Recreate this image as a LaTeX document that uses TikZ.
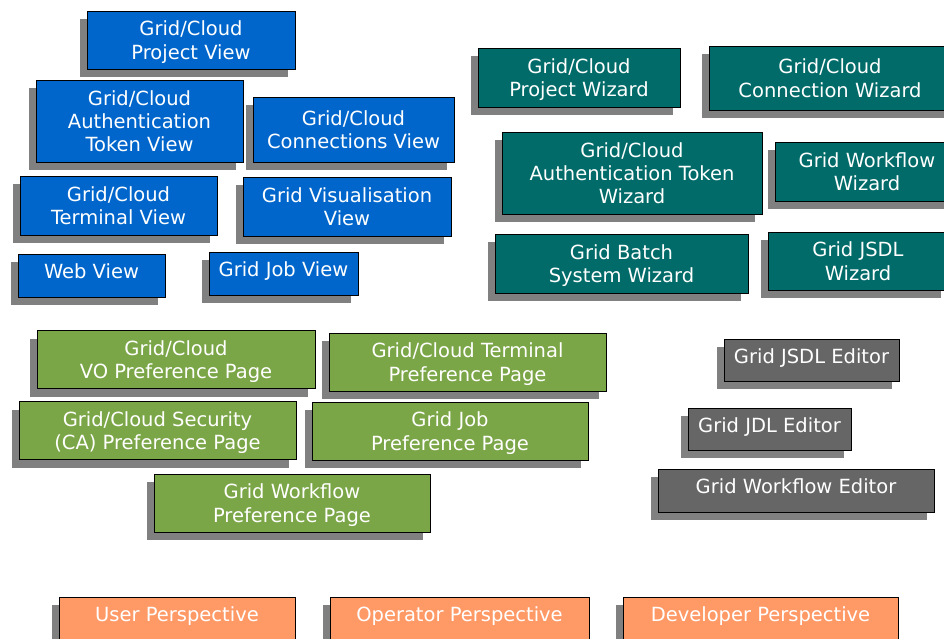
\documentclass[tikz,border=0pt]{standalone}
\usepackage{fontspec}
\setmainfont{DejaVu Sans}
\usetikzlibrary{shadows}
\definecolor{viewblue}{HTML}{0066CC}
\definecolor{wizardteal}{HTML}{006B68}
\definecolor{prefgreen}{HTML}{7BA647}
\definecolor{editorgrey}{HTML}{666666}
\definecolor{perspectiveorange}{HTML}{FF9966}
\definecolor{shadowgrey}{HTML}{808080}

\begin{document}
\begin{tikzpicture}[x=1pt, y=-1pt,
    every node/.style={font=\fontsize{19.5}{23.3}\selectfont},
    box/.style 2 args={rectangle, draw=black, line width=.8pt, text=white, align=center, inner sep=0pt, text depth=0pt,
      minimum width=#1pt, minimum height=#2pt,
      drop shadow={shadow xshift=-7pt, shadow yshift=-8pt, fill=shadowgrey, opacity=1}},
    oneline/.style={text depth=8pt}]
    \useasboundingbox (0,0) rectangle (944,639);
    \clip (0,0) rectangle (944,639);

    \node[box={208}{58}, fill=viewblue] (projview) at (191,40) {Grid/Cloud\\Project View};
    \node[box={207}{82}, fill=viewblue] (authview) at (139.5,121) {Grid/Cloud\\Authentication\\Token View};
    \node[box={201}{65}, fill=viewblue] (connview) at (353.5,129.5) {Grid/Cloud\\Connections View};
    \node[box={197}{59}, fill=viewblue] (termview) at (118.5,205.5) {Grid/Cloud\\Terminal View};
    \node[box={208}{59}, fill=viewblue] (visview) at (347,206.5) {Grid Visualisation\\View};
    \node[box={147}{43}, fill=viewblue, oneline] (webview) at (91.5,275.5) {Web View};
    \node[box={149}{43}, fill=viewblue, oneline] (jobview) at (283.5,273.5) {Grid Job View};

    \node[box={202}{59}, fill=wizardteal] (projwiz) at (579,77.5) {Grid/Cloud\\Project Wizard};
    \node[box={242}{64}, fill=wizardteal] (connwiz) at (830,78) {Grid/Cloud\\Connection Wizard};
    \node[box={260}{82}, fill=wizardteal] (authwiz) at (632,173) {Grid/Cloud\\Authentication Token\\Wizard};
    \node[box={184}{59}, fill=wizardteal] (flowwiz) at (867,171.5) {Grid Workflow\\Wizard};
    \node[box={253}{59}, fill=wizardteal] (batchwiz) at (621.5,263.5) {Grid Batch\\System Wizard};
    \node[box={180}{58}, fill=wizardteal] (jsdlwiz) at (858,261) {Grid JSDL\\Wizard};

    \node[box={278}{58}, fill=prefgreen] (vopref) at (176,359.5) {Grid/Cloud\\VO Preference Page};
    \node[box={277}{58}, fill=prefgreen] (termpref) at (467.5,362) {Grid/Cloud Terminal\\Preference Page};
    \node[box={277}{58}, fill=prefgreen] (capref) at (157.5,430.5) {Grid/Cloud Security\\(CA) Preference Page};
    \node[box={276}{58}, fill=prefgreen] (jobpref) at (450,431) {Grid Job\\Preference Page};
    \node[box={276}{58}, fill=prefgreen] (flowpref) at (292,503) {Grid Workflow\\Preference Page};

    \node[box={175}{42}, fill=editorgrey, oneline] (jsdled) at (811.5,360) {Grid JSDL Editor};
    \node[box={163}{42}, fill=editorgrey, oneline] (jdled) at (769.5,429) {Grid JDL Editor};
    \node[box={276}{43}, fill=editorgrey, oneline] (flowed) at (796,490.5) {Grid Workflow Editor};

    \node[box={236}{43}, fill=perspectiveorange, oneline] (userpersp) at (177,618.5) {User Perspective};
    \node[box={259}{43}, fill=perspectiveorange, oneline] (oppersp) at (459.5,618.5) {Operator Perspective};
    \node[box={275}{43}, fill=perspectiveorange, oneline] (devpersp) at (760.5,618.5) {Developer Perspective};
  \end{tikzpicture}
\end{document}
